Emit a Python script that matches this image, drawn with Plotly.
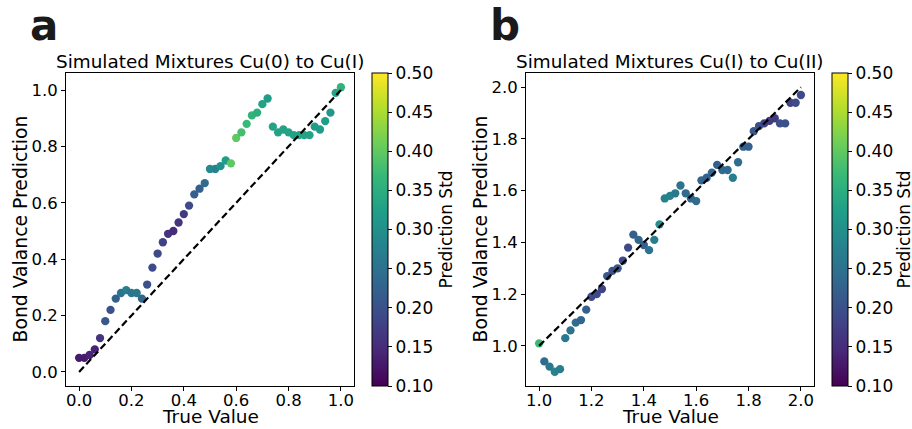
import plotly.graph_objects as go

# ---------------- data ----------------
true_a = [round(i * 0.02, 2) for i in range(51)]
pred_a = [0.05, 0.05, 0.06, 0.08, 0.12, 0.18, 0.22, 0.26, 0.28, 0.29,
          0.28, 0.28, 0.26, 0.31, 0.37, 0.42, 0.46, 0.49, 0.50, 0.53,
          0.56, 0.59, 0.63, 0.65, 0.67, 0.72, 0.72, 0.73, 0.75, 0.74,
          0.83, 0.85, 0.88, 0.91, 0.92, 0.95, 0.97, 0.87, 0.85, 0.86,
          0.85, 0.84, 0.84, 0.84, 0.84, 0.87, 0.86, 0.89, 0.92, 0.99,
          1.01]
std_a = [0.13, 0.13, 0.14, 0.14, 0.16, 0.21, 0.20, 0.22, 0.25, 0.27,
         0.26, 0.26, 0.23, 0.20, 0.19, 0.19, 0.18, 0.16, 0.15, 0.16,
         0.17, 0.19, 0.22, 0.22, 0.24, 0.29, 0.28, 0.30, 0.32, 0.40,
         0.40, 0.38, 0.37, 0.36, 0.35, 0.33, 0.32, 0.33, 0.33, 0.33,
         0.33, 0.33, 0.33, 0.33, 0.33, 0.32, 0.32, 0.32, 0.31, 0.33,
         0.36]

true_b = [round(1 + i * 0.02, 2) for i in range(51)]
pred_b = [1.01, 0.94, 0.92, 0.90, 0.91, 1.03, 1.06, 1.09, 1.10, 1.14,
          1.19, 1.20, 1.22, 1.27, 1.29, 1.30, 1.33, 1.38, 1.43, 1.41,
          1.39, 1.37, 1.41, 1.47, 1.57, 1.58, 1.59, 1.62, 1.59, 1.57,
          1.56, 1.64, 1.65, 1.67, 1.70, 1.68, 1.68, 1.65, 1.71, 1.77,
          1.77, 1.83, 1.85, 1.86, 1.87, 1.88, 1.86, 1.86, 1.94, 1.94,
          1.97]
std_b = [0.37, 0.24, 0.26, 0.28, 0.27, 0.26, 0.25, 0.24, 0.23, 0.22,
         0.19, 0.19, 0.18, 0.21, 0.20, 0.21, 0.19, 0.19, 0.22, 0.23,
         0.22, 0.25, 0.27, 0.30, 0.28, 0.28, 0.26, 0.25, 0.24, 0.23,
         0.24, 0.23, 0.22, 0.23, 0.22, 0.24, 0.24, 0.27, 0.24, 0.23,
         0.22, 0.21, 0.20, 0.18, 0.17, 0.17, 0.20, 0.20, 0.18, 0.19,
         0.19]

line_a = [0.0, 1.0]
line_b = [1.0, 2.0]

ticks_a = [0.0, 0.2, 0.4, 0.6, 0.8, 1.0]
ticks_b = [1.0, 1.2, 1.4, 1.6, 1.8, 2.0]
cb_ticks = [0.10, 0.15, 0.20, 0.25, 0.30, 0.35, 0.40, 0.45, 0.50]

titles = ["Simulated Mixtures Cu(0) to Cu(I)", "Simulated Mixtures Cu(I) to Cu(II)"]
panel_letters = ["a", "b"]

# ---------------- layout helpers ----------------
W, H = 912, 429
FONT = "DejaVu Sans"


def px_x(p):
    return p / W


def px_y(p):
    return 1 - p / H


fig = go.Figure()

# panel a
fig.add_trace(go.Scatter(x=true_a, y=pred_a, mode="markers", xaxis="x", yaxis="y",
                         marker=dict(size=8.3, color=std_a, coloraxis="coloraxis"),
                         showlegend=False))
fig.add_trace(go.Scatter(x=line_a, y=line_a, mode="lines", xaxis="x", yaxis="y",
                         line=dict(color="black", width=2.2, dash="7px,3.5px"),
                         showlegend=False))
# panel b
fig.add_trace(go.Scatter(x=true_b, y=pred_b, mode="markers", xaxis="x2", yaxis="y2",
                         marker=dict(size=8.3, color=std_b, coloraxis="coloraxis2"),
                         showlegend=False))
fig.add_trace(go.Scatter(x=line_b, y=line_b, mode="lines", xaxis="x2", yaxis="y2",
                         line=dict(color="black", width=2.2, dash="7px,3.5px"),
                         showlegend=False))

top, bottom = 73, 386
ydom = [px_y(bottom), px_y(top)]
xdom_a = [px_x(66), px_x(354)]
xdom_b = [px_x(526), px_x(814)]

axis_common = dict(showgrid=False, zeroline=False, showline=True, linecolor="black",
                   linewidth=1, mirror=True, ticks="outside", ticklen=4, tickwidth=1,
                   tickcolor="black", tickfont=dict(family=FONT, size=16.5, color="black"))

cb_common = dict(thickness=16, len=(bottom - top) / H, lenmode="fraction",
                 y=px_y(bottom), yanchor="bottom", xanchor="left",
                 outlinecolor="black", outlinewidth=1, tickmode="array",
                 tickvals=cb_ticks, ticktext=[f"{v:.2f}" for v in cb_ticks],
                 ticks="outside", ticklen=4, tickcolor="black",
                 tickfont=dict(family=FONT, size=17, color="black"), xpad=0, ypad=0)

fig.update_layout(
    width=W, height=H, margin=dict(l=0, r=0, t=0, b=0),
    paper_bgcolor="white", plot_bgcolor="white",
    font=dict(family=FONT, color="black"),
    xaxis=dict(domain=xdom_a, range=[-0.05, 1.05], tickvals=ticks_a,
               ticktext=[f"{v:.1f}" for v in ticks_a], anchor="y",
               ticklabelstandoff=-5, **axis_common),
    yaxis=dict(domain=ydom, range=[-0.05, 1.0605], tickvals=ticks_a,
               ticktext=[f"{v:.1f}" for v in ticks_a], anchor="x", **axis_common),
    xaxis2=dict(domain=xdom_b, range=[0.95, 2.05], tickvals=ticks_b,
                ticktext=[f"{v:.1f}" for v in ticks_b], anchor="y2",
                ticklabelstandoff=-5, **axis_common),
    yaxis2=dict(domain=ydom, range=[0.845, 2.055], tickvals=ticks_b,
                ticktext=[f"{v:.1f}" for v in ticks_b], anchor="x2", **axis_common),
    coloraxis=dict(colorscale="Viridis", cmin=0.1, cmax=0.5,
                   colorbar=dict(x=px_x(372), **cb_common)),
    coloraxis2=dict(colorscale="Viridis", cmin=0.1, cmax=0.5,
                    colorbar=dict(x=px_x(832), **cb_common)),
)

ann = []
centers = [(66 + 354) / 2, (526 + 814) / 2]
ylab_x = [20, 480]
cb_lab_x = [445, 903]
letter_x = [28, 488]
for i in range(2):
    ann.append(dict(text=titles[i], x=px_x(centers[i]), y=px_y(62), xref="paper", yref="paper",
                    xanchor="center", yanchor="middle", showarrow=False,
                    font=dict(family=FONT, size=18.4, color="black")))
    ann.append(dict(text="True Value", x=px_x(centers[i]), y=0, xref="paper", yref="paper",
                    xanchor="center", yanchor="bottom", showarrow=False,
                    font=dict(family=FONT, size=18.5, color="black")))
    ann.append(dict(text="Bond Valance Prediction", x=px_x(ylab_x[i]), y=px_y((top + bottom) / 2),
                    xref="paper", yref="paper", xanchor="center", yanchor="middle",
                    textangle=-90, showarrow=False,
                    font=dict(family=FONT, size=18.8, color="black")))
    ann.append(dict(text="Prediction Std", x=px_x(cb_lab_x[i]), y=px_y((top + bottom) / 2),
                    xref="paper", yref="paper", xanchor="center", yanchor="middle",
                    textangle=-90, showarrow=False,
                    font=dict(family=FONT, size=17, color="black")))
    ann.append(dict(text="<b>" + panel_letters[i] + "</b>", x=px_x(letter_x[i]), y=px_y(25),
                    xref="paper", yref="paper", xanchor="left", yanchor="middle",
                    showarrow=False, font=dict(family=FONT, size=42, color="#1a1a1a")))
fig.update_layout(annotations=ann)

fig.write_html("out.html")
